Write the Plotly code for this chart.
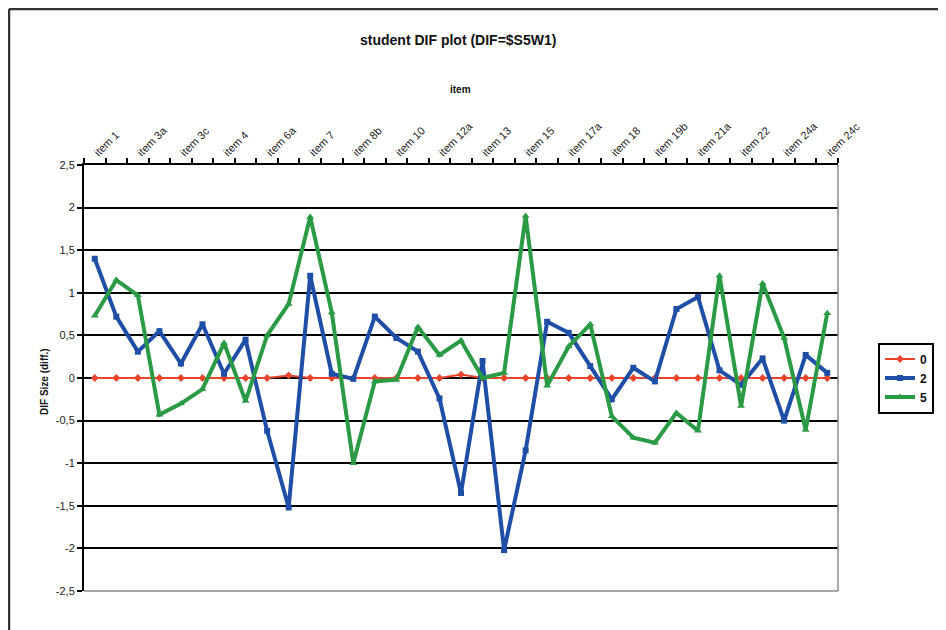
import plotly.graph_objects as go

items = ["item 1", "item 2", "item 3a", "item 3b", "item 3c", "item 3d", "item 4", "item 5",
         "item 6a", "item 6b", "item 7", "item 8a", "item 8b", "item 9", "item 10", "item 11",
         "item 12a", "item 12b", "item 13", "item 14", "item 15", "item 16", "item 17a", "item 17b",
         "item 18", "item 19a", "item 19b", "item 20", "item 21a", "item 21b", "item 22", "item 23",
         "item 24a", "item 24b", "item 24c"]

dif_0 = [0, 0, 0, 0, 0, 0, 0, 0, 0, 0.03, 0, 0, 0, 0, 0, 0, 0, 0.04, 0, 0,
         0, 0, 0, 0, 0, 0, 0, 0, 0, 0, 0, 0, 0, 0, 0]
dif_2 = [1.40, 0.72, 0.31, 0.55, 0.17, 0.63, 0.05, 0.45, -0.62, -1.52, 1.20, 0.05, -0.01,
         0.72, 0.47, 0.31, -0.24, -1.35, 0.20, -2.02, -0.85, 0.66, 0.53, 0.14, -0.25, 0.12,
         -0.04, 0.81, 0.95, 0.09, -0.08, 0.23, -0.50, 0.27, 0.06]
dif_5 = [0.73, 1.15, 0.97, -0.43, -0.30, -0.13, 0.41, -0.27, 0.50, 0.87, 1.89, 0.77, -1.00,
         -0.04, -0.02, 0.60, 0.27, 0.44, 0.00, 0.06, 1.90, -0.09, 0.37, 0.63, -0.45, -0.70,
         -0.76, -0.41, -0.62, 1.20, -0.33, 1.11, 0.47, -0.61, 0.76]

y_ticks = [2.5, 2, 1.5, 1, 0.5, 0, -0.5, -1, -1.5, -2, -2.5]
y_ticktext = ["2,5", "2", "1,5", "1", "0,5", "0", "-0,5", "-1", "-1,5", "-2", "-2,5"]

FONT = "Liberation Sans, Arial, sans-serif"
x_idx = list(range(len(items)))

fig = go.Figure()
fig.add_trace(go.Scatter(x=x_idx, y=dif_0, name="0", mode="lines+markers",
                         line=dict(color="#e8452c", width=2),
                         marker=dict(symbol="diamond", size=6, color="#e8452c")))
fig.add_trace(go.Scatter(x=x_idx, y=dif_2, name="2", mode="lines+markers",
                         line=dict(color="#1f4ea6", width=4),
                         marker=dict(symbol="square", size=6, color="#1f4ea6")))
fig.add_trace(go.Scatter(x=x_idx, y=dif_5, name="5", mode="lines+markers",
                         line=dict(color="#2b9a45", width=4),
                         marker=dict(symbol="triangle-up", size=7, color="#2b9a45")))

# page body has an 8px margin; work in figure coordinates (page - 8)
OFF = 8
W, H = 946 - OFF, 630 - OFF
L, R, T, B = 84 - OFF, 838 - OFF, 165 - OFF, 591 - OFF


def px(xp):
    return (xp - OFF - L) / (R - L)


def py(yp):
    return (B - (yp - OFF)) / (B - T)


fig.update_layout(
    width=W, height=H,
    margin=dict(l=L, r=W - R, t=T, b=H - B, autoexpand=False),
    paper_bgcolor="white", plot_bgcolor="white",
    font=dict(family=FONT, color="#222"),
    showlegend=True,
    legend=dict(x=px(934), xanchor="right", y=py(378), yanchor="middle",
                bordercolor="black", borderwidth=2, bgcolor="white",
                font=dict(size=12, family=FONT, color="#111", weight="bold"),
                tracegroupgap=0, itemwidth=30),
    xaxis=dict(range=[-0.5, len(items) - 0.5], side="top",
               tickmode="array", tickvals=x_idx[::2], ticktext=items[::2],
               tickangle=-45, ticks="", ticklen=0,
               tickfont=dict(size=11, family=FONT, color="#222"),
               showline=True, linecolor="black", linewidth=2,
               showgrid=False, zeroline=False,
               minor=dict(ticks="outside", tick0=-0.5, dtick=1, ticklen=5,
                          tickcolor="black", tickwidth=1.5, showgrid=False)),
    yaxis=dict(range=[-2.5, 2.5], tickmode="array", tickvals=y_ticks, ticktext=y_ticktext,
               ticks="outside", ticklen=5, tickcolor="black", tickwidth=1.5,
               tickfont=dict(size=11, family=FONT, color="#222"),
               showline=True, linecolor="black", linewidth=2,
               showgrid=True, gridcolor="black", gridwidth=2, zeroline=False),
    annotations=[
        dict(text="<b>student DIF plot (DIF=$S5W1)</b>", xref="paper", yref="paper",
             x=px(458), y=py(40), xanchor="center", yanchor="middle",
             showarrow=False, font=dict(size=14, family=FONT, color="#111")),
        dict(text="<b>item</b>", xref="paper", yref="paper",
             x=px(460), y=py(89), xanchor="center", yanchor="middle",
             showarrow=False, font=dict(size=10, family=FONT, color="#111")),
        dict(text="<b>DIF Size (diff.)</b>", xref="paper", yref="paper", textangle=-90,
             x=px(44), y=py(382), xanchor="center", yanchor="middle",
             showarrow=False, font=dict(size=10, family=FONT, color="#111")),
    ],
    shapes=[
        dict(type="line", xref="paper", yref="paper", x0=1, x1=1, y0=0, y1=1,
             line=dict(color="#8a8a8a", width=1.5), layer="above"),
        dict(type="line", xref="paper", yref="paper", x0=0, x1=1, y0=0, y1=0,
             line=dict(color="#8a8a8a", width=1.5), layer="above"),
        dict(type="line", xref="paper", yref="paper",
             x0=px(9), x1=px(9), y0=py(640), y1=py(9),
             line=dict(color="#333", width=2.5)),
        dict(type="line", xref="paper", yref="paper",
             x0=px(9), x1=px(960), y0=py(9), y1=py(9),
             line=dict(color="#333", width=2.5)),
    ],
)

fig.write_html("out.html")
